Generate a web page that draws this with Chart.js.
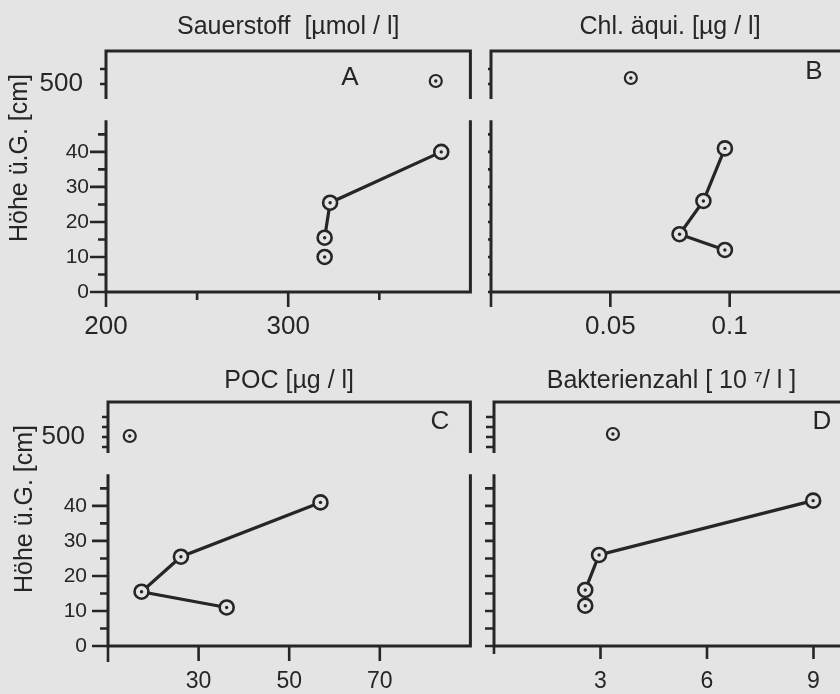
<!DOCTYPE html>
<html>
<head>
<meta charset="utf-8">
<script src="https://cdn.jsdelivr.net/npm/chart.js@4.4.1/dist/chart.umd.min.js"></script>
<style>
  html, body { margin: 0; width: 840px; height: 694px; overflow: hidden; background: #e4e4e4; }
  canvas { position: absolute; }
</style>
</head>
<body>
<canvas id="chartA" width="480" height="345" style="left:0;top:0"></canvas>
<canvas id="chartB" width="390" height="345" style="left:472px;top:0"></canvas>
<canvas id="chartC" width="480" height="343" style="left:0;top:351px"></canvas>
<canvas id="chartD" width="390" height="343" style="left:472px;top:351px"></canvas>
<script>
var heightsA = [10, 15.5, 25.5, 40];
var oxygen = [320, 320, 323, 384];
var heightsB = [12, 16.5, 26, 41];
var chlorophyll = [0.098, 0.079, 0.089, 0.098];
var heightsC = [11, 15.5, 25.5, 41];
var poc = [36.2, 17.4, 26.1, 56.9];
var heightsD = [11.5, 16, 26, 41.5];
var bacteria = [2.57, 2.57, 2.96, 8.99];

// the single sample at 500 cm (A, B, C, D)
var topHeights = [502, 504, 501, 503];
var topValues = [381, 0.0586, 14.8, 3.35];

// index of the first sample that is joined to the profile line
var joinFrom = [1, 0, 0, 1];

var titles = ['Sauerstoff  [µmol / l]', 'Chl. äqui. [µg / l]', 'POC [µg / l]', 'Bakterienzahl [ 10 ⁷/ l ]'];
var letters = ['A', 'B', 'C', 'D'];

var xTicksA = [200, 250, 300, 350], xLabelsA = [200, 300];
var xTicksB = [0, 0.05, 0.1], xLabelsB = [0.05, 0.1];
var xTicksC = [10, 30, 50, 70], xLabelsC = [30, 50, 70];
var xTicksD = [0, 3, 6, 9], xLabelsD = [3, 6, 9];
var yTicks = [0, 5, 10, 15, 20, 25, 30, 35, 40, 45];
var yLabels = [0, 10, 20, 30, 40];
var yTopTicksRow1 = [500, 510];
var yTopTicksRow2 = [490, 500, 510, 520];
var yTopLabels = [500];
var yTitle = 'Höhe ü.G. [cm]';

var ink = '#262626';
var paper = '#e4e4e4';
var FONT = '"Liberation Sans", Arial, sans-serif';

// frame with broken y axis, tick marks, centre dots, panel letter
function framePlugin(p) {
    return {
        id: 'frame',
        beforeDatasetsDraw: function (chart) {
            var ctx = chart.ctx, a = chart.chartArea;
            var x = chart.scales.x, lo = chart.scales.yLo, hi = chart.scales.yHi;
            var gapTop = hi.bottom, gapBottom = lo.getPixelForValue(49);
            ctx.save();
            ctx.strokeStyle = ink;
            ctx.lineWidth = 3;
            ctx.beginPath();
            ctx.moveTo(a.left, gapTop); ctx.lineTo(a.left, a.top); ctx.lineTo(a.right, a.top); ctx.lineTo(a.right, gapTop);
            ctx.moveTo(a.left, gapBottom); ctx.lineTo(a.left, a.bottom); ctx.lineTo(a.right, a.bottom); ctx.lineTo(a.right, gapBottom);
            ctx.stroke();

            ctx.lineWidth = 2.6;
            ctx.beginPath();
            lo.ticks.forEach(function (t) {
                var y = lo.getPixelForValue(t.value);
                var len = t.value % 10 === 0 ? p.yMajor : p.yMinor;
                ctx.moveTo(a.left - len, y); ctx.lineTo(a.left, y);
            });
            hi.ticks.forEach(function (t) {
                var y = hi.getPixelForValue(t.value);
                ctx.moveTo(a.left - p.yTop, y); ctx.lineTo(a.left, y);
            });
            x.ticks.forEach(function (t) {
                var px = x.getPixelForValue(t.value);
                var len = p.xLabels.indexOf(t.value) >= 0 ? p.xMajor : p.xMinor;
                ctx.moveTo(px, a.bottom); ctx.lineTo(px, a.bottom + len);
            });
            ctx.stroke();
            ctx.restore();
        },
        afterDatasetsDraw: function (chart) {
            var ctx = chart.ctx, a = chart.chartArea;
            ctx.save();
            ctx.fillStyle = ink;
            chart.data.datasets.forEach(function (ds, i) {
                chart.getDatasetMeta(i).data.forEach(function (pt) {
                    ctx.beginPath();
                    ctx.arc(pt.x, pt.y, 1.7, 0, Math.PI * 2);
                    ctx.fill();
                });
            });
            ctx.font = '26px ' + FONT;
            ctx.textAlign = 'center';
            ctx.textBaseline = 'middle';
            ctx.fillText(p.letter, a.left + p.letterX, a.top + p.letterY);
            if (p.yTitleX) {
                ctx.translate(p.yTitleX, a.top + 107);
                ctx.rotate(-Math.PI / 2);
                ctx.font = '25px ' + FONT;
                ctx.fillText(yTitle, 0, 0);
            }
            ctx.restore();
        }
    };
}

function labelIf(list) {
    return function (v) { return list.indexOf(v) >= 0 ? String(v) : ''; };
}

function setTicks(list) {
    return function (s) { s.ticks = list.map(function (v) { return {value: v}; }); };
}

function buildPanel(canvasId, p) {
    var low = p.heights.map(function (h, i) { return {x: p.values[i], y: h}; });
    var marker = {
        borderColor: ink,
        borderWidth: 3.2,
        pointRadius: 7,
        pointBorderWidth: 2.6,
        pointBorderColor: ink,
        pointBackgroundColor: paper,
        yAxisID: 'yLo'
    };
    var datasets = [
        Object.assign({}, marker, {data: low.slice(p.joinFrom), showLine: true}),
        Object.assign({}, marker, {data: low.slice(0, p.joinFrom), showLine: false}),
        Object.assign({}, marker, {data: [{x: p.topValue, y: p.topHeight}], showLine: false,
            pointRadius: 6, pointBorderWidth: 2.2, yAxisID: 'yHi'})
    ];
    var noGrid = {display: false, drawTicks: false};
    var r = p.row;

    return new Chart(document.getElementById(canvasId), {
        type: 'scatter',
        data: {datasets: datasets},
        options: {
            responsive: false,
            animation: false,
            events: [],
            layout: {padding: {left: 0, right: p.padRight, top: 0, bottom: 0}},
            plugins: {
                legend: {display: false},
                tooltip: {enabled: false},
                title: {
                    display: true,
                    text: p.title,
                    fullSize: false,
                    color: ink,
                    font: {family: FONT, size: 25, weight: 'normal', lineHeight: 1.2},
                    padding: r.titlePad
                }
            },
            scales: {
                x: {
                    type: 'linear', min: p.xMin, max: p.xMax,
                    grid: noGrid, border: {display: false},
                    afterBuildTicks: setTicks(p.xTicks),
                    afterFit: function (s) { s.height = r.xHeight; },
                    ticks: {color: ink, padding: r.xPad, autoSkip: false, maxRotation: 0,
                        font: {family: FONT, size: r.xFont}, callback: labelIf(p.xLabels)}
                },
                // left boxes are stacked in reverse order: yLo ends up below yHi
                yLo: {
                    type: 'linear', position: 'left', stack: 'depth', stackWeight: 193,
                    min: 0, max: 55.1,
                    grid: noGrid, border: {display: false},
                    afterBuildTicks: setTicks(yTicks),
                    afterFit: function (s) { s.width = p.axisW; },
                    ticks: {display: p.showY, color: ink, padding: p.yPad, autoSkip: false,
                        font: {family: FONT, size: 21}, callback: labelIf(yLabels)}
                },
                yHi: {
                    type: 'linear', position: 'left', stack: 'depth', stackWeight: r.hiPx,
                    min: r.hiMin, max: r.hiMax,
                    grid: noGrid, border: {display: false},
                    afterBuildTicks: setTicks(r.topTicks),
                    afterFit: function (s) { s.width = p.axisW; },
                    ticks: {display: p.showY, color: ink, padding: 23, autoSkip: false,
                        font: {family: FONT, size: 26}, callback: labelIf(yTopLabels)}
                }
            }
        },
        plugins: [framePlugin(p)]
    });
}

var row1 = {titlePad: {top: 12, bottom: 9}, xHeight: 53, xPad: 19, xFont: 26,
    hiMin: 490, hiMax: 522, hiPx: 48, topTicks: yTopTicksRow1};
var row2 = {titlePad: {top: 15, bottom: 6}, xHeight: 48, xPad: 22, xFont: 23,
    hiMin: 484, hiMax: 535, hiPx: 51, topTicks: yTopTicksRow2};

buildPanel('chartA', {
    row: row1, title: titles[0], letter: letters[0], letterX: 244, letterY: 27,
    heights: heightsA, values: oxygen, joinFrom: joinFrom[0], topHeight: topHeights[0], topValue: topValues[0],
    xMin: 200, xMax: 400, xTicks: xTicksA, xLabels: xLabelsA, xMajor: 15, xMinor: 8,
    axisW: 106, padRight: 9, showY: true, yPad: 17, yMajor: 16, yMinor: 8, yTop: 6, yTitleX: 20
});
buildPanel('chartB', {
    row: row1, title: titles[1], letter: letters[1], letterX: 323, letterY: 21,
    heights: heightsB, values: chlorophyll, joinFrom: joinFrom[1], topHeight: topHeights[1], topValue: topValues[1],
    xMin: 0, xMax: 0.15, xTicks: xTicksB, xLabels: xLabelsB, xMajor: 15, xMinor: 15,
    axisW: 13, padRight: 13, showY: false, yPad: 0, yMajor: 3, yMinor: 3, yTop: 3, yTitleX: 0
});
buildPanel('chartC', {
    row: row2, title: titles[2], letter: letters[2], letterX: 332, letterY: 20,
    heights: heightsC, values: poc, joinFrom: joinFrom[2], topHeight: topHeights[2], topValue: topValues[2],
    xMin: 10, xMax: 90, xTicks: xTicksC, xLabels: xLabelsC, xMajor: 15, xMinor: 16,
    axisW: 108, padRight: 9, showY: true, yPad: 21, yMajor: 16, yMinor: 8, yTop: 6, yTitleX: 25
});
buildPanel('chartD', {
    row: row2, title: titles[3], letter: letters[3], letterX: 328, letterY: 20,
    heights: heightsD, values: bacteria, joinFrom: joinFrom[3], topHeight: topHeights[3], topValue: topValues[3],
    xMin: 0, xMax: 10, xTicks: xTicksD, xLabels: xLabelsD, xMajor: 13, xMinor: 8,
    axisW: 15, padRight: 13, showY: false, yPad: 0, yMajor: 9, yMinor: 9, yTop: 8, yTitleX: 0
});
</script>
</body>
</html>
